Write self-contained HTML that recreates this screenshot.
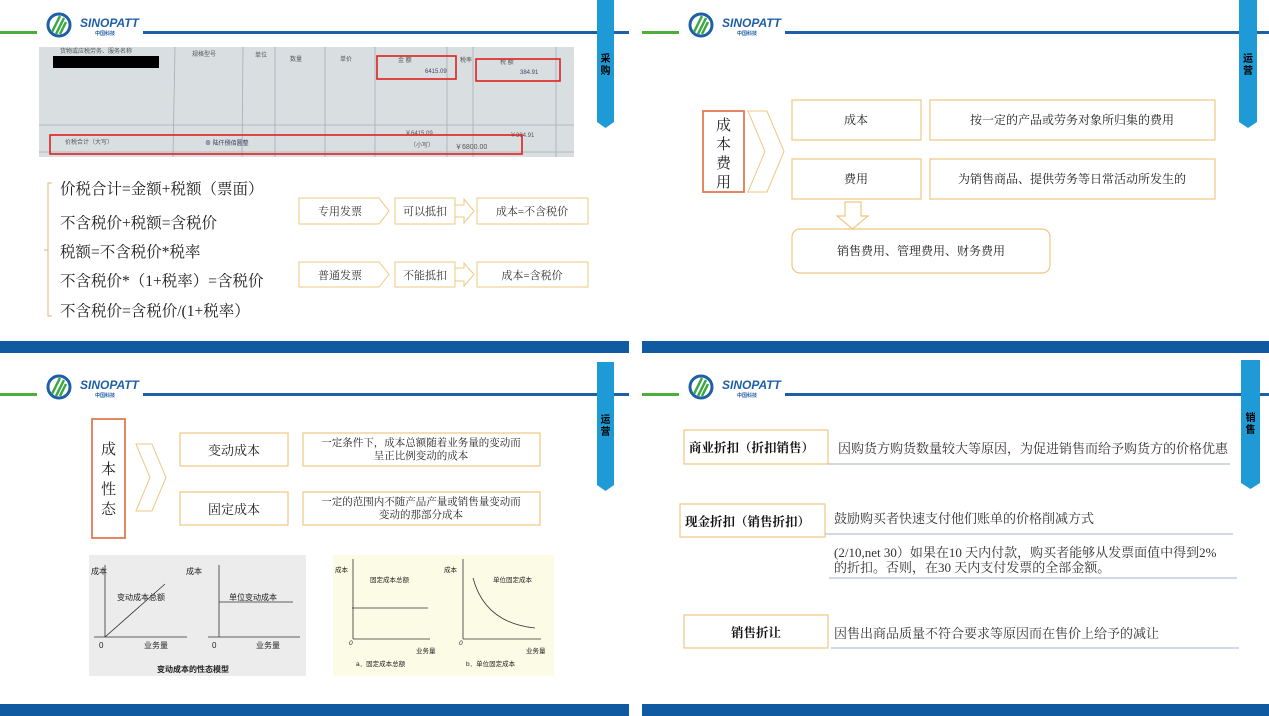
<!DOCTYPE html>
<html><head><meta charset="utf-8"><style>
html,body{margin:0;padding:0;background:#fff;width:1269px;height:716px;overflow:hidden}
text{font-family:"Liberation Sans","Noto Sans CJK SC",sans-serif}
.cn{font-family:"Liberation Serif","Noto Serif CJK SC","Noto Sans CJK SC",serif}
</style></head><body>
<svg width="1269" height="716" viewBox="0 0 1269 716" xmlns="http://www.w3.org/2000/svg">
<defs>
<g id="hdr">
  <rect x="0" y="31" width="37" height="3" fill="#4caf3a"/>
  <rect x="143" y="31" width="486" height="3" fill="#1f5fa8"/>
  <circle cx="59" cy="25" r="11" fill="#fff" stroke="#1f5fa8" stroke-width="3"/>
  <path d="M52 32 L60 16 M56 34 L64 18 M60 34 L66 22" stroke="#3aa845" stroke-width="2.5" fill="none"/>
  <text x="80" y="27" font-size="12" font-weight="bold" font-style="italic" fill="#1f5fa8">SINOPATT</text>
  <text x="95" y="35" font-size="5" font-weight="bold" fill="#1f5fa8">中国科技</text>
</g>
</defs>

<!-- ===== TL ===== -->
<use href="#hdr"/>
<polygon points="597,0 614,0 614,122 605.5,128 597,122" fill="#1e9ad6"/>
<text x="605.5" y="62" font-size="10" font-weight="bold" text-anchor="middle">采</text>
<text x="605.5" y="74" font-size="10" font-weight="bold" text-anchor="middle">购</text>
<rect x="0" y="341" width="629" height="12" fill="#0f5aa0"/>

<rect x="39" y="47" width="535" height="110" fill="#d9dfe0"/>
<g stroke="#9fb0b6" stroke-width="0.8">
<line x1="175" y1="47" x2="173" y2="157"/><line x1="243" y1="47" x2="242" y2="157"/><line x1="275" y1="47" x2="275" y2="157"/><line x1="325" y1="47" x2="325" y2="157"/><line x1="375" y1="47" x2="375" y2="157"/><line x1="447" y1="47" x2="447" y2="157"/><line x1="473" y1="47" x2="473" y2="157"/><line x1="556" y1="47" x2="556" y2="157"/>
<line x1="39" y1="125" x2="574" y2="125"/><line x1="39" y1="152" x2="574" y2="152"/>
</g>
<g font-size="6" fill="#555">
<text x="60" y="53">货物或应税劳务、服务名称</text><text x="192" y="56">规格型号</text><text x="255" y="57">单位</text><text x="290" y="61">数量</text><text x="340" y="61">单价</text><text x="398" y="62">金 额</text><text x="460" y="62">税率</text><text x="500" y="64">税 额</text>
<text x="425" y="73" fill="#446">6415.09</text><text x="520" y="74" fill="#446">384.91</text>
<text x="65" y="144">价税合计（大写）</text><text x="205" y="145" fill="#335">⊗ 陆仟捌佰圆整</text><text x="410" y="147">（小写）</text><text x="455" y="149" font-size="7">￥6800.00</text>
<text x="405" y="135">￥6415.09</text><text x="510" y="137">￥384.91</text>
</g>
<rect x="53" y="56" width="106" height="12" fill="#000"/>
<g fill="none" stroke="#e02020" stroke-width="1.6">
<rect x="377" y="56" width="79" height="23"/><rect x="476" y="59" width="84" height="22"/><rect x="50" y="135" width="472" height="19"/>
</g>

<path d="M52 183 L48 183 L48 316 L52 316 M48 250 L44 250" fill="none" stroke="#e0b878" stroke-width="1"/>
<g font-size="15.5" fill="#222">
<text x="60" y="194" class="cn">价税合计=金额+税额（票面）</text>
<text x="60" y="228" class="cn">不含税价+税额=含税价</text>
<text x="60" y="257" class="cn">税额=不含税价*税率</text>
<text x="60" y="286" class="cn">不含税价*（1+税率）=含税价</text>
<text x="60" y="316" class="cn">不含税价=含税价/(1+税率）</text>
</g>
<g fill="#fff" stroke="#eec880" stroke-width="1">
<polygon points="299,198 379,198 389,211 379,224 299,224"/>
<rect x="395" y="198" width="60" height="26"/>
<polygon points="455,205 464,205 464,199 474,211 464,223 464,217 455,217"/>
<rect x="477" y="198" width="111" height="26"/>
<polygon points="299,262 379,262 389,274.5 379,287 299,287"/>
<rect x="395" y="262" width="60" height="25"/>
<polygon points="455,268 464,268 464,263 474,274.5 464,286 464,281 455,281"/>
<rect x="477" y="262" width="111" height="25"/>
</g>
<g font-size="11" fill="#333" text-anchor="middle">
<text x="340" y="215" class="cn">专用发票</text><text x="425" y="215" class="cn">可以抵扣</text><text x="532" y="215" class="cn">成本=不含税价</text>
<text x="340" y="279" class="cn">普通发票</text><text x="425" y="279" class="cn">不能抵扣</text><text x="532" y="279" class="cn">成本=含税价</text>
</g>

<!-- ===== TR ===== -->
<use href="#hdr" transform="translate(642,0)"/>
<polygon points="1239,0 1257,0 1257,122 1248,128 1239,122" fill="#1e9ad6"/>
<text x="1248" y="62" font-size="10" font-weight="bold" text-anchor="middle">运</text>
<text x="1248" y="74" font-size="10" font-weight="bold" text-anchor="middle">营</text>
<rect x="642" y="341" width="627" height="12" fill="#0f5aa0"/>

<rect x="703" y="111" width="41" height="81" fill="#fff" stroke="#e07b50" stroke-width="1.8"/>
<g font-size="15" text-anchor="middle" fill="#222">
<text x="723.5" y="130" class="cn">成</text><text x="723.5" y="149" class="cn">本</text><text x="723.5" y="168" class="cn">费</text><text x="723.5" y="187" class="cn">用</text>
</g>
<polygon points="748,111 767,111 784,151.5 767,192 748,192 765,151.5" fill="#fff" stroke="#eec880"/>
<g fill="#fff" stroke="#eec880" stroke-width="1.2">
<rect x="792" y="100" width="129" height="40"/><rect x="930" y="100" width="285" height="40"/>
<rect x="792" y="159" width="129" height="40"/><rect x="930" y="159" width="285" height="40"/>
<polygon points="845,202 861,202 861,216 868,216 852.5,229 837,216 845,216"/>
<rect x="792" y="229" width="258" height="44" rx="8"/>
</g>
<g font-size="12" text-anchor="middle" fill="#222">
<text x="856" y="124" class="cn">成本</text><text x="1072" y="124" class="cn">按一定的产品或劳务对象所归集的费用</text>
<text x="856" y="183" class="cn">费用</text><text x="1072" y="183" class="cn">为销售商品、提供劳务等日常活动所发生的</text>
<text x="921" y="255" class="cn">销售费用、管理费用、财务费用</text>
</g>

<!-- ===== BL ===== -->
<use href="#hdr" transform="translate(0,362)"/>
<polygon points="597,362 614,362 614,485 605.5,491 597,485" fill="#1e9ad6"/>
<text x="605.5" y="423" font-size="10" font-weight="bold" text-anchor="middle">运</text>
<text x="605.5" y="435" font-size="10" font-weight="bold" text-anchor="middle">营</text>
<rect x="0" y="704" width="629" height="12" fill="#0f5aa0"/>

<rect x="92" y="419" width="33" height="119" fill="#fff" stroke="#e07b50" stroke-width="1.8"/>
<g font-size="15" text-anchor="middle" fill="#222">
<text x="108.5" y="454" class="cn">成</text><text x="108.5" y="474" class="cn">本</text><text x="108.5" y="494" class="cn">性</text><text x="108.5" y="514" class="cn">态</text>
</g>
<polygon points="136,444 152,444 166,477.5 152,511 136,511 150,477.5" fill="#fff" stroke="#eec880"/>
<g fill="#fff" stroke="#eec880" stroke-width="1.2">
<rect x="180" y="433" width="108" height="33"/><rect x="303" y="433" width="237" height="33"/>
<rect x="180" y="492" width="108" height="33"/><rect x="303" y="492" width="237" height="33"/>
</g>
<g font-size="13" text-anchor="middle" fill="#222">
<text x="234" y="455" class="cn">变动成本</text><text x="234" y="514" class="cn">固定成本</text>
</g>
<g font-size="10.5" text-anchor="middle" fill="#222">
<text x="421" y="446" class="cn">一定条件下，成本总额随着业务量的变动而</text><text x="421" y="459" class="cn">呈正比例变动的成本</text>
<text x="421" y="505" class="cn">一定的范围内不随产品产量或销售量变动而</text><text x="421" y="518" class="cn">变动的那部分成本</text>
</g>
<rect x="89" y="555" width="217" height="121" fill="#ececec"/>
<g stroke="#333" stroke-width="0.8" fill="none">
<line x1="105" y1="565" x2="105" y2="637"/><line x1="94" y1="637" x2="187" y2="637"/>
<line x1="105" y1="637" x2="165" y2="584"/>
<line x1="219" y1="565" x2="219" y2="637"/><line x1="208" y1="637" x2="300" y2="637"/>
<line x1="219" y1="602" x2="293" y2="602"/>
</g>
<g font-size="8" fill="#222">
<text x="91" y="574">成本</text><text x="186" y="574">成本</text>
<text x="117" y="600">变动成本总额</text><text x="229" y="600">单位变动成本</text>
<text x="99" y="648">0</text><text x="144" y="648">业务量</text><text x="212" y="648">0</text><text x="256" y="648">业务量</text>
<text x="157" y="672" font-weight="bold">变动成本的性态模型</text>
</g>
<rect x="333" y="555" width="221" height="121" fill="#fbfbe6"/>
<g stroke="#333" stroke-width="0.8" fill="none">
<line x1="353" y1="559" x2="353" y2="639"/><line x1="353" y1="639" x2="430" y2="639"/>
<line x1="352" y1="608" x2="428" y2="608"/>
<line x1="463" y1="559" x2="463" y2="639"/><line x1="463" y1="639" x2="541" y2="639"/>
<path d="M473 578 Q485 623 535 628"/>
</g>
<g font-size="6.5" fill="#222">
<text x="335" y="572">成本</text><text x="370" y="582">固定成本总额</text>
<text x="444" y="572">成本</text><text x="493" y="582">单位固定成本</text>
<text x="349" y="645" font-style="italic">0</text><text x="459" y="645" font-style="italic">0</text>
<text x="416" y="653">业务量</text><text x="526" y="653">业务量</text>
<text x="356" y="666">a．固定成本总额</text><text x="466" y="666">b．单位固定成本</text>
</g>

<!-- ===== BR ===== -->
<use href="#hdr" transform="translate(642,362)"/>
<polygon points="1241,360 1260,360 1260,483 1250.5,489 1241,483" fill="#1e9ad6"/>
<text x="1250.5" y="421" font-size="10" font-weight="bold" text-anchor="middle">销</text>
<text x="1250.5" y="433" font-size="10" font-weight="bold" text-anchor="middle">售</text>
<rect x="642" y="704" width="627" height="12" fill="#0f5aa0"/>

<g fill="#fff" stroke="#eec880" stroke-width="1.2">
<rect x="684" y="430" width="144" height="34"/>
<rect x="680" y="504" width="145" height="33"/>
<rect x="684" y="615" width="144" height="33"/>
</g>
<g stroke="#9fb4cc" stroke-width="1">
<line x1="828" y1="464" x2="1230" y2="464"/>
<line x1="825" y1="534" x2="1233" y2="534"/>
<line x1="829" y1="578" x2="1237" y2="578"/>
<line x1="831" y1="648" x2="1239" y2="648"/>
</g>
<g font-size="12.5" font-weight="bold" fill="#111">
<text x="689" y="452" class="cn">商业折扣（折扣销售）</text>
<text x="685" y="526" class="cn">现金折扣（销售折扣）</text>
<text x="756" y="637" text-anchor="middle" class="cn">销售折让</text>
</g>
<g font-size="13" fill="#333">
<text x="838" y="453" class="cn">因购货方购货数量较大等原因，为促进销售而给予购货方的价格优惠</text>
<text x="834" y="523" class="cn">鼓励购买者快速支付他们账单的价格削减方式</text>
<text x="834" y="557" class="cn">(2/10,net 30）如果在10 天内付款，购买者能够从发票面值中得到2%</text>
<text x="834" y="572" class="cn">的折扣。否则，在30 天内支付发票的全部金额。</text>
<text x="834" y="638" class="cn">因售出商品质量不符合要求等原因而在售价上给予的减让</text>
</g>
</svg>
</body></html>
